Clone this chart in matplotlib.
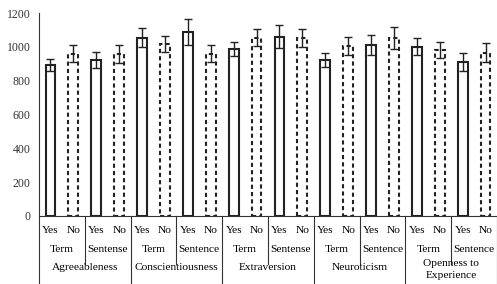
import matplotlib.pyplot as plt
import numpy as np

plt.rcParams['font.family'] = ['Liberation Serif', 'DejaVu Serif']

traits = ['Agreeableness', 'Conscientiousness', 'Extraversion', 'Neuroticism', 'Openness to\nExperience']
sub_labels = [['Term', 'Sentense'], ['Term', 'Sentence'], ['Term', 'Sentense'],
              ['Term', 'Sentence'], ['Term', 'Sentence']]
answers = ['Yes', 'No']

# order: trait -> (Term, Sentence) -> (Yes, No)
means = [893, 960, 922, 955,
         1053, 1018, 1085, 960,
         986, 1055, 1061, 1051,
         922, 1006, 1012, 1052,
         1000, 980, 910, 966]
errors = [33, 50, 47, 53,
          56, 48, 77, 50,
          43, 52, 66, 53,
          40, 54, 58, 66,
          50, 48, 51, 57]

fig = plt.figure(figsize=(4.97, 2.84), dpi=100)
ax = fig.add_axes([39 / 497, 1 - 216 / 284, 458 / 497, 203 / 284])

x = np.arange(len(means))
for i in x:
    is_yes = (i % 2 == 0)
    ax.bar(i, means[i], width=0.43, facecolor='white', edgecolor='#222222',
           linewidth=1.5, linestyle='-' if is_yes else (0, (2, 1.5)), zorder=2)
ax.errorbar(x, means, yerr=errors, fmt='none', ecolor='#222222',
            elinewidth=1.0, capsize=3, capthick=1.0, zorder=3)

ax.set_xlim(-0.5, len(means) - 0.5)
ax.set_ylim(0, 1200)
ax.set_yticks(range(0, 1201, 200))
ax.tick_params(axis='y', length=0, pad=6, labelsize=8.5, colors='#333333')
ax.set_xticks([])
for s in ['top', 'right']:
    ax.spines[s].set_visible(False)
ax.spines['left'].set_color('#333333')
ax.spines['bottom'].set_color('#333333')

tr = ax.get_xaxis_transform()
fs = 8.2
for i in x:
    ax.text(i, -0.069, answers[i % 2], transform=tr, ha='center', va='center', fontsize=fs)
for g in range(10):
    ax.text(2 * g + 0.5, -0.163, sub_labels[g // 2][g % 2], transform=tr,
            ha='center', va='center', fontsize=fs)
for t in range(5):
    ax.text(4 * t + 1.5, -0.265 if t == 4 else -0.252, traits[t], transform=tr,
            ha='center', va='center', fontsize=fs, linespacing=1.45)

# separators below the axis
for g in range(11):
    xb = 2 * g - 0.5
    bottom = -0.34 if g % 2 == 0 else -0.235
    ax.plot([xb, xb], [0, bottom], transform=tr, color='#333333', lw=0.8, clip_on=False)

fig.savefig('out.png', dpi=100)
